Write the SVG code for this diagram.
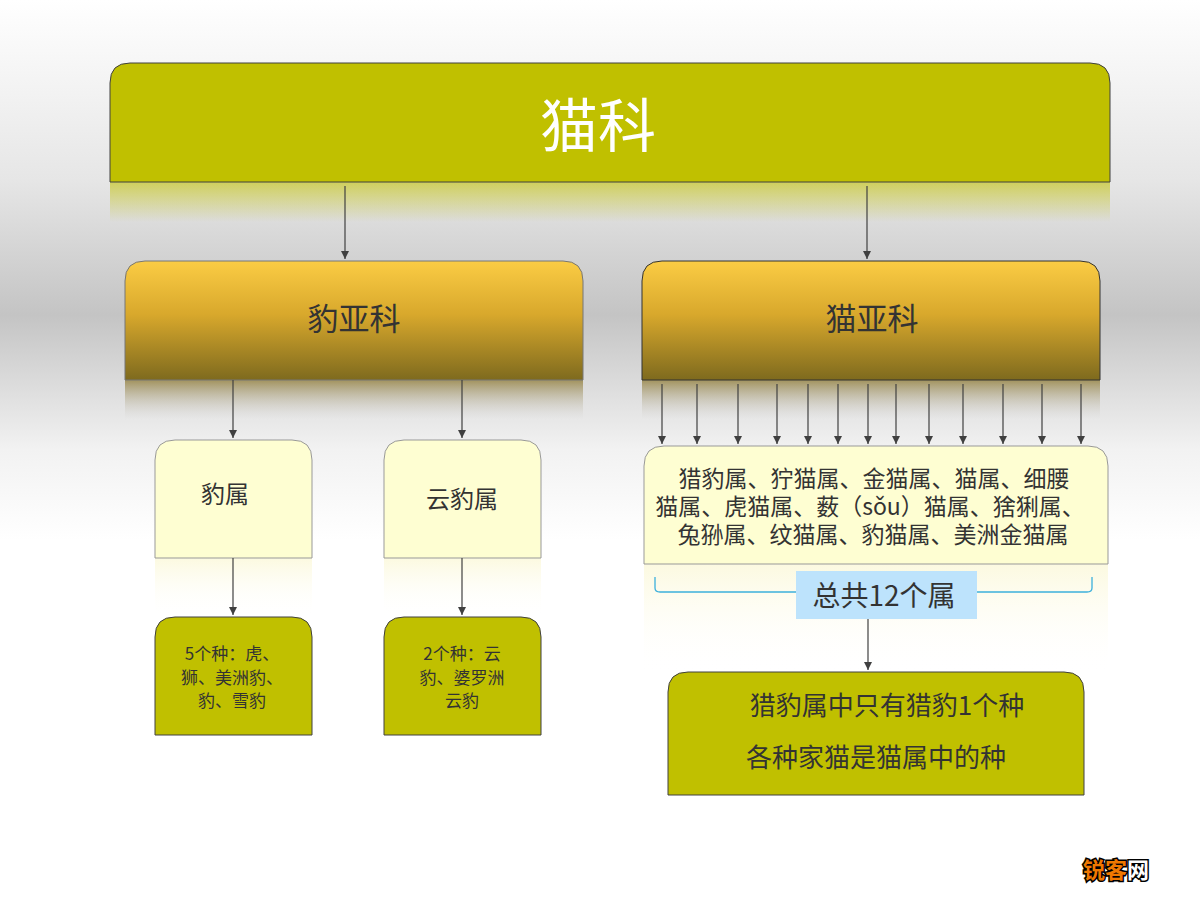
<svg xmlns="http://www.w3.org/2000/svg" width="1200" height="900" viewBox="0 0 1200 900">
<defs>
<linearGradient id="bg" x1="0" y1="0" x2="0" y2="1">
<stop offset="0" stop-color="#ffffff"/><stop offset="0.2" stop-color="#e6e6e6"/><stop offset="0.35" stop-color="#c4c4c4"/><stop offset="0.5" stop-color="#f2f2f2"/><stop offset="0.6" stop-color="#ffffff"/>
</linearGradient>
<linearGradient id="gold" x1="0" y1="0" x2="0" y2="1">
<stop offset="0" stop-color="#fbcc44"/><stop offset="0.45" stop-color="#d8a82c"/><stop offset="1" stop-color="#7e6a1e"/>
</linearGradient>
<linearGradient id="refOlive" x1="0" y1="0" x2="0" y2="1">
<stop offset="0" stop-color="#c0c000" stop-opacity="0.6"/><stop offset="1" stop-color="#c0c000" stop-opacity="0"/>
</linearGradient>
<linearGradient id="refGold" x1="0" y1="0" x2="0" y2="1">
<stop offset="0" stop-color="#8a7428" stop-opacity="0.7"/><stop offset="1" stop-color="#c8c8c8" stop-opacity="0"/>
</linearGradient>
<linearGradient id="refPale" x1="0" y1="0" x2="0" y2="1">
<stop offset="0" stop-color="#fbf8d8" stop-opacity="0.8"/><stop offset="1" stop-color="#ffffff" stop-opacity="0"/>
</linearGradient>
<marker id="ar" markerWidth="10" markerHeight="10" refX="8" refY="4" orient="auto" markerUnits="userSpaceOnUse">
<path d="M0,0 L8,4 L0,8 Z" fill="#404040"/>
</marker>
<style>
text{font-family:"Noto Sans CJK SC","Noto Sans",sans-serif;fill:#333;text-anchor:middle}
.ln{stroke:#404040;stroke-width:1.2;fill:none;marker-end:url(#ar)}
.olive{fill:#c0c000;stroke:#404040;stroke-width:1}
.pale{fill:#fefed2;stroke:#999;stroke-width:1}
</style>
</defs>
<rect width="1200" height="900" fill="url(#bg)"/>
<rect x="110" y="182" width="1000" height="40" fill="url(#refOlive)"/>
<rect x="125" y="380" width="458" height="40" fill="url(#refGold)"/>
<rect x="642" y="380" width="458" height="40" fill="url(#refGold)"/>
<rect x="155" y="558" width="157" height="60" fill="url(#refPale)"/>
<rect x="384" y="558" width="157" height="60" fill="url(#refPale)"/>
<rect x="644" y="564" width="464" height="110" fill="url(#refPale)"/>

<g id="n-maoke"><path d="M130,63 H1090 Q1110,63 1110,83 V182 H110 V83 Q110,63 130,63 Z" class="olive"/><text x="598" y="147" font-size="58" style="fill:#fff">猫科</text></g>
<g id="n-baoyake"><path d="M145,261 H563 Q583,261 583,281 V380 H125 V281 Q125,261 145,261 Z" fill="url(#gold)" stroke="#777"/><text x="354" y="330" font-size="31">豹亚科</text></g>
<g id="n-maoyake"><path d="M662,261 H1080 Q1100,261 1100,281 V380 H642 V281 Q642,261 662,261 Z" fill="url(#gold)" stroke="#333"/><text x="872" y="330" font-size="31">猫亚科</text></g>
<g id="n-baoshu"><path d="M175,440 H292 Q312,440 312,460 V558 H155 V460 Q155,440 175,440 Z" class="pale"/><text x="225" y="503" font-size="24">豹属</text></g>
<g id="n-yunbaoshu"><path d="M404,440 H521 Q541,440 541,460 V558 H384 V460 Q384,440 404,440 Z" class="pale"/><text x="462" y="508" font-size="24">云豹属</text></g>
<g id="n-maoshu"><path d="M664,446 H1088 Q1108,446 1108,466 V564 H644 V466 Q644,446 664,446 Z" class="pale"/>
<text font-size="23"><tspan x="874" y="487">猎豹属、狞猫属、金猫属、猫属、细腰</tspan><tspan x="870" y="515">猫属、虎猫属、薮（sǒu）猫属、猞猁属、</tspan><tspan x="873" y="543">兔狲属、纹猫属、豹猫属、美洲金猫属</tspan></text></g>
<g id="n-baozhong"><path d="M175,617 H292 Q312,617 312,637 V735 H155 V637 Q155,617 175,617 Z" class="olive" stroke="#777"/>
<text font-size="17"><tspan x="232" y="660">5个种：虎、</tspan><tspan x="232" y="684">狮、美洲豹、</tspan><tspan x="232" y="707">豹、雪豹</tspan></text></g>
<g id="n-yunbaozhong"><path d="M404,617 H521 Q541,617 541,637 V735 H384 V637 Q384,617 404,617 Z" class="olive" stroke="#777"/>
<text font-size="17"><tspan x="462" y="660">2个种：云</tspan><tspan x="462" y="684">豹、婆罗洲</tspan><tspan x="462" y="707">云豹</tspan></text></g>
<g id="n-bracket"><path d="M655,577 V588 Q655,592 660,592 H1087 Q1092,592 1092,588 V577" fill="none" stroke="#3db0dc" stroke-width="1.3"/>
<rect x="796" y="571" width="181" height="48" fill="#bde3fc"/><text x="884" y="606" font-size="28">总共12个属</text></g>
<g id="n-liebao"><path d="M688,672 H1064 Q1084,672 1084,692 V795 H668 V692 Q668,672 688,672 Z" class="olive" stroke="#777"/>
<text font-size="26"><tspan x="887" y="715">猎豹属中只有猎豹1个种</tspan><tspan x="876" y="767">各种家猫是猫属中的种</tspan></text></g>

<g id="connectors">
<line x1="345" y1="186" x2="345" y2="259" class="ln"/>
<line x1="867" y1="186" x2="867" y2="259" class="ln"/>
<line x1="233" y1="380" x2="233" y2="438" class="ln"/>
<line x1="462" y1="380" x2="462" y2="438" class="ln"/>
<line x1="233" y1="558" x2="233" y2="615" class="ln"/>
<line x1="462" y1="558" x2="462" y2="615" class="ln"/>
<line x1="868" y1="619" x2="868" y2="670" class="ln"/>
<line x1="662" y1="384" x2="662" y2="444" class="ln"/>
<line x1="697" y1="384" x2="697" y2="444" class="ln"/>
<line x1="738" y1="384" x2="738" y2="444" class="ln"/>
<line x1="777" y1="384" x2="777" y2="444" class="ln"/>
<line x1="808" y1="384" x2="808" y2="444" class="ln"/>
<line x1="838" y1="384" x2="838" y2="444" class="ln"/>
<line x1="868" y1="384" x2="868" y2="444" class="ln"/>
<line x1="896" y1="384" x2="896" y2="444" class="ln"/>
<line x1="929" y1="384" x2="929" y2="444" class="ln"/>
<line x1="963" y1="384" x2="963" y2="444" class="ln"/>
<line x1="1003" y1="384" x2="1003" y2="444" class="ln"/>
<line x1="1042" y1="384" x2="1042" y2="444" class="ln"/>
<line x1="1081" y1="384" x2="1081" y2="444" class="ln"/>
</g>
<text x="1116" y="878" font-size="22" font-weight="bold" style="fill:#f07800;stroke:#000;stroke-width:3;paint-order:stroke">锐客<tspan style="fill:#fff">网</tspan></text>
</svg>
